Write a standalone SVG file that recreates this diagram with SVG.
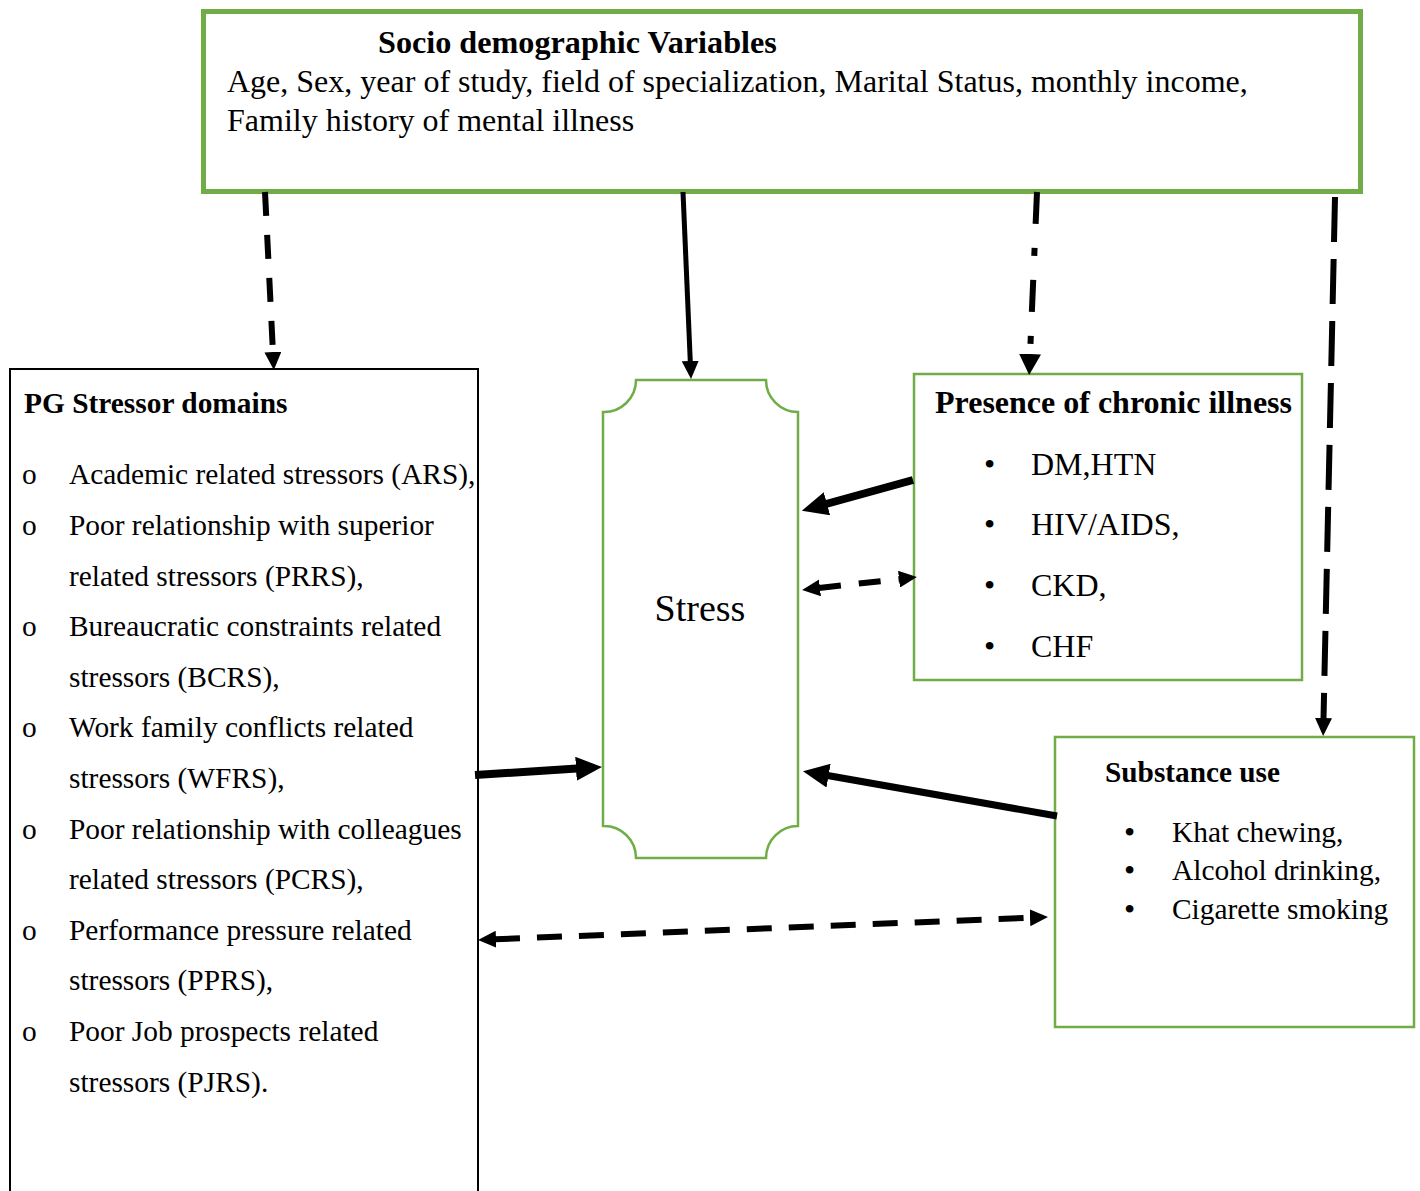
<svg xmlns="http://www.w3.org/2000/svg" width="1420" height="1191" viewBox="0 0 1420 1191">
<style>
.box{fill:#fff;stroke:#70AD47}
.t{font-family:"Liberation Serif","Times New Roman",serif;fill:#000}
.b{font-weight:bold}
.ln{fill:none;stroke:#000;stroke-linecap:butt}
</style>
<defs>
<marker id="hs" viewBox="0 0 18 17" refX="1" refY="8.5" markerWidth="18" markerHeight="17" markerUnits="userSpaceOnUse" orient="auto-start-reverse"><path d="M0,0 L18,8.5 L0,17 z" fill="#000"/></marker>
<marker id="hm" viewBox="0 0 21 22" refX="1" refY="11" markerWidth="21" markerHeight="22" markerUnits="userSpaceOnUse" orient="auto-start-reverse"><path d="M0,0 L21,11 L0,22 z" fill="#000"/></marker>
<marker id="hl" viewBox="0 0 26 24" refX="1" refY="12" markerWidth="26" markerHeight="24" markerUnits="userSpaceOnUse" orient="auto-start-reverse"><path d="M0,0 L26,12 L0,24 z" fill="#000"/></marker>
</defs>
<rect width="1420" height="1191" fill="#fff"/>

<g id="socio">
<rect class="box" x="203.5" y="11.5" width="1157" height="180" stroke-width="5"/>
<text class="t b" x="378" y="53" font-size="32.2">Socio demographic Variables</text>
<text class="t" x="227" y="92" font-size="32">Age, Sex, year of study, field of specialization, Marital Status, monthly income,</text>
<text class="t" x="227" y="131" font-size="32">Family history of mental illness</text>
</g>

<g id="stressors">
<rect x="10" y="369" width="468" height="840" fill="#fff" stroke="#000" stroke-width="2"/>
<text class="t b" x="24" y="413" font-size="29.4">PG Stressor domains</text>
<g class="t" font-size="29.4">
<text x="22" y="484">o</text><text x="69" y="484">Academic related stressors (ARS),</text>
<text x="22" y="535">o</text><text x="69" y="535">Poor relationship with superior</text>
<text x="69" y="586">related stressors (PRRS),</text>
<text x="22" y="636">o</text><text x="69" y="636">Bureaucratic constraints related</text>
<text x="69" y="687">stressors (BCRS),</text>
<text x="22" y="737">o</text><text x="69" y="737">Work family conflicts related</text>
<text x="69" y="788">stressors (WFRS),</text>
<text x="22" y="839">o</text><text x="69" y="839">Poor relationship with colleagues</text>
<text x="69" y="889">related stressors (PCRS),</text>
<text x="22" y="940">o</text><text x="69" y="940">Performance pressure related</text>
<text x="69" y="990">stressors (PPRS),</text>
<text x="22" y="1041">o</text><text x="69" y="1041">Poor Job prospects related</text>
<text x="69" y="1092">stressors (PJRS).</text>
</g>
</g>

<g id="stress">
<path class="box" stroke-width="2.5" d="M636,380 H766 A32,32 0 0 0 798,412 V826 A32,32 0 0 0 766,858 H636 A32,32 0 0 0 603,826 V412 A32,32 0 0 0 636,380 Z"/>
<text class="t" x="700" y="621" font-size="38" text-anchor="middle">Stress</text>
</g>

<g id="chronic">
<rect class="box" x="914" y="374" width="388" height="306" stroke-width="2.5"/>
<text class="t b" x="935" y="413" font-size="32">Presence of chronic illness</text>
<g class="t" font-size="32">
<text x="984" y="475">•</text><text x="1031" y="475">DM,HTN</text>
<text x="984" y="535">•</text><text x="1031" y="535">HIV/AIDS,</text>
<text x="984" y="596">•</text><text x="1031" y="596">CKD,</text>
<text x="984" y="657">•</text><text x="1031" y="657">CHF</text>
</g>
</g>

<g id="substance">
<rect class="box" x="1055" y="737" width="359" height="290" stroke-width="2.5"/>
<text class="t b" x="1105" y="782" font-size="29.3">Substance use</text>
<g class="t" font-size="29.4">
<text x="1124" y="843" font-size="32">•</text><text x="1172" y="842">Khat chewing,</text>
<text x="1124" y="881" font-size="32">•</text><text x="1172" y="880">Alcohol drinking,</text>
<text x="1124" y="920" font-size="32">•</text><text x="1172" y="919">Cigarette smoking</text>
</g>
</g>

<g id="connectors">
<path class="ln" stroke-width="6" stroke-dasharray="24 19" d="M265,192 L273,353" marker-end="url(#hs)"/>
<path class="ln" stroke-width="5" d="M683,192 L690.3,362" marker-end="url(#hs)"/>
<path class="ln" stroke-width="6" stroke-dasharray="32 24 8 24" d="M1037,192 L1030,355" marker-end="url(#hm)"/>
<path class="ln" stroke-width="6" stroke-dasharray="45 17" d="M1335,197 L1323.5,719" marker-end="url(#hs)"/>
<path class="ln" stroke-width="8" d="M913,480 L826,504" marker-end="url(#hl)"/>
<path class="ln" stroke-width="6" stroke-dasharray="22 18" d="M819,588 L900,579" marker-start="url(#hs)" marker-end="url(#hs)"/>
<path class="ln" stroke-width="8" d="M475,775 L577,768.6" marker-end="url(#hl)"/>
<path class="ln" stroke-width="7" d="M1057,816 L827.6,775.5" marker-end="url(#hl)"/>
<path class="ln" stroke-width="6" stroke-dasharray="25 17" d="M495,939.3 L1031,917.7" marker-start="url(#hs)" marker-end="url(#hs)"/>
</g>
</svg>
